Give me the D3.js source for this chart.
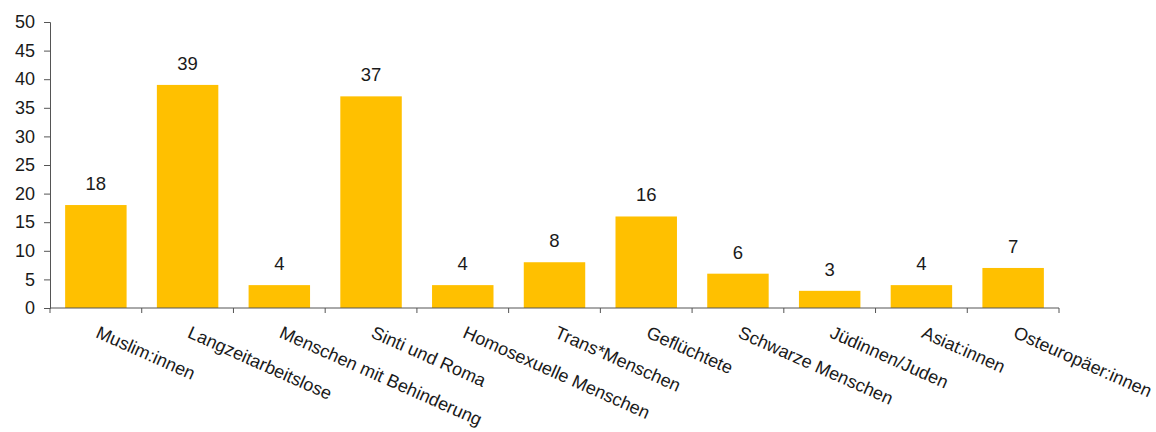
<!DOCTYPE html>
<html>
<head>
<meta charset="utf-8">
<script src="https://cdn.jsdelivr.net/npm/d3@7"></script>
<style>
  html, body { margin: 0; padding: 0; background: #fff; }
  svg { display: block; font-family: "Liberation Sans", Arial, sans-serif; }
</style>
</head>
<body>
<svg id="chart" width="1156" height="432"></svg>
<script>
// Groups shown along the x axis
const categories = [
  "Muslim:innen", "Langzeitarbeitslose", "Menschen mit Behinderung", "Sinti und Roma",
  "Homosexuelle Menschen", "Trans*Menschen", "Geflüchtete", "Schwarze Menschen",
  "Jüdinnen/Juden", "Asiat:innen", "Osteuropäer:innen"
];
// Value per group
const values = [18, 39, 4, 37, 4, 8, 16, 6, 3, 4, 7];
// Y axis ticks
const yTicks = [0, 5, 10, 15, 20, 25, 30, 35, 40, 45, 50];

const svg = d3.select("#chart");
const plotLeft = 50, plotRight = 1059, plotTop = 22, plotBottom = 308;

const x = d3.scaleBand()
  .domain(categories)
  .range([plotLeft, plotRight])
  .paddingInner(0.33)
  .paddingOuter(0.165);

const y = d3.scaleLinear().domain([0, 50]).range([plotBottom, plotTop]);

// Bars
svg.append("g").selectAll("rect")
  .data(values)
  .join("rect")
  .attr("x", (d, i) => x(categories[i]))
  .attr("y", d => y(d))
  .attr("width", x.bandwidth())
  .attr("height", d => y(0) - y(d))
  .attr("fill", "#FFC000");

// Value labels above bars
svg.append("g").selectAll("text")
  .data(values)
  .join("text")
  .attr("x", (d, i) => x(categories[i]) + x.bandwidth() / 2)
  .attr("y", d => y(d) - 15)
  .attr("text-anchor", "middle")
  .attr("font-size", 18.5)
  .attr("fill", "#1a1a1a")
  .text(d => d);

// Y axis
const yAxis = svg.append("g")
  .attr("transform", `translate(${plotLeft},0)`)
  .call(d3.axisLeft(y).tickValues(yTicks).tickSize(6).tickPadding(9));
yAxis.select(".domain").attr("stroke", "#555");
yAxis.selectAll(".tick line").attr("stroke", "#555");
yAxis.selectAll(".tick text").attr("font-size", 18).attr("fill", "#1a1a1a")
  .attr("font-family", "Liberation Sans, Arial, sans-serif");

// X axis: ticks sit on band boundaries
const boundaries = d3.range(categories.length + 1)
  .map(i => plotLeft + i * (plotRight - plotLeft) / categories.length);
const xAxisG = svg.append("g");
xAxisG.append("line")
  .attr("x1", plotLeft).attr("x2", plotRight)
  .attr("y1", plotBottom).attr("y2", plotBottom)
  .attr("stroke", "#555");
xAxisG.selectAll("line.tick")
  .data(boundaries)
  .join("line")
  .attr("class", "tick")
  .attr("x1", d => d).attr("x2", d => d)
  .attr("y1", plotBottom).attr("y2", plotBottom + 5)
  .attr("stroke", "#555");

// Rotated category labels
xAxisG.selectAll("text")
  .data(categories)
  .join("text")
  .attr("transform", d => `translate(${x(d) + x.bandwidth() / 2 - 1},${plotBottom + 29}) rotate(24)`)
  .attr("font-size", 18)
  .attr("fill", "#1a1a1a")
  .text(d => d);
</script>
</body>
</html>
